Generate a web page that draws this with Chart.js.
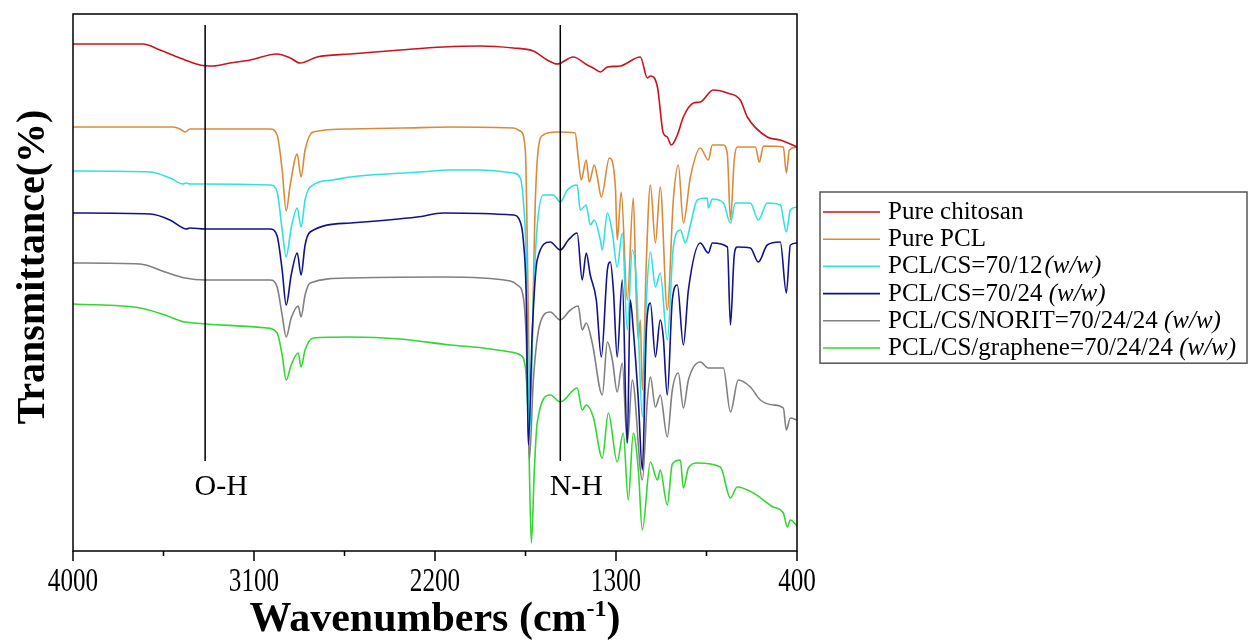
<!DOCTYPE html>
<html>
<head>
<meta charset="utf-8">
<title>FTIR spectra</title>
<script src="https://cdn.jsdelivr.net/npm/chart.js@4.4.1/dist/chart.umd.min.js"></script>
<style>
    html, body { margin: 0; padding: 0; background: #fff; }
    #wrap { width: 1250px; height: 641px; }
</style>
</head>
<body>
<div id="wrap"><canvas id="ftirChart" width="1250" height="641"></canvas></div>
<script>
// ===================== DATA =====================
// x = wavenumber (cm-1), y = stacked transmittance (arbitrary offset units)
const seriesLabels = ['Pure chitosan', 'Pure PCL', 'PCL/CS=70/12', 'PCL/CS=70/24', 'PCL/CS/NORIT=70/24/24', 'PCL/CS/graphene=70/24/24'];
const seriesUnits = ['', '', '(w/w)', '(w/w)', '(w/w)', '(w/w)'];

const chitosanX = [4000, 3652, 3567, 3468, 3368, 3303, 3219, 3119, 2985, 2920, 2871, 2786, 2622, 2373, 2159, 1975, 1811, 1711, 1642, 1592, 1513, 1443, 1413, 1378, 1343, 1279, 1179, 1144, 1129, 1094, 1065, 1045, 1025, 995, 965, 915, 881, 816, 746, 682, 647, 548, 483, 400];
const chitosanY = [101.4, 101.4, 100.2, 98.6, 97.2, 97, 97.6, 98.2, 99.4, 98.6, 97.6, 98.8, 99.4, 100.2, 100.8, 101, 100.6, 100, 98.2, 97.4, 98.8, 97.2, 96.6, 95.8, 96.8, 97, 98.8, 94.6, 95, 92.8, 83.6, 82.8, 81.2, 83.2, 86.8, 89.6, 89.8, 92.2, 91.6, 90.2, 86.8, 82.8, 82.2, 80.8];

const pclX = [4000, 3503, 3468, 3443, 3418, 3020, 2985, 2960, 2940, 2920, 2885, 2866, 2846, 2806, 2622, 2358, 2124, 1811, 1776, 1751, 1726, 1701, 1687, 1662, 1597, 1503, 1488, 1473, 1448, 1433, 1408, 1393, 1373, 1333, 1303, 1294, 1274, 1244, 1214, 1199, 1189, 1179, 1169, 1149, 1129, 1104, 1080, 1045, 1015, 990, 965, 930, 881, 841, 821, 766, 746, 731, 712, 697, 607, 587, 567, 468, 453, 438, 400];
const pclY = [84.8, 84.8, 84.4, 83.8, 84.4, 84.4, 83.2, 76.2, 68, 73.2, 79.4, 74.8, 80.2, 83.8, 84.4, 84.6, 84.8, 84.6, 84, 80.2, 30.2, 70.2, 80.2, 83.2, 83.8, 83.6, 78.8, 74.2, 78.2, 73.8, 77.2, 74.8, 70.8, 78.6, 72.8, 62.2, 71.8, 50.2, 70.6, 50.2, 42.2, 46.2, 32.2, 58.2, 73.2, 61.6, 72.8, 48.2, 70.2, 77.2, 65.6, 74.8, 80.6, 78.2, 81.2, 81.2, 79.2, 66.2, 78.2, 80.8, 80.8, 77.8, 81, 80.8, 75.6, 80.2, 80.8];

const cs12X = [4000, 3617, 3518, 3453, 3438, 3418, 3343, 3020, 2985, 2960, 2940, 2915, 2885, 2866, 2846, 2821, 2707, 2622, 2274, 2124, 1975, 1811, 1776, 1761, 1746, 1731, 1711, 1692, 1662, 1612, 1577, 1542, 1493, 1478, 1448, 1428, 1408, 1378, 1368, 1343, 1318, 1294, 1269, 1244, 1219, 1199, 1189, 1169, 1149, 1129, 1104, 1080, 1045, 1015, 980, 955, 930, 896, 846, 841, 821, 766, 731, 707, 632, 592, 548, 483, 453, 433, 400];
const cs12Y = [76, 75.8, 74.6, 73.4, 73.6, 73.4, 73.4, 73.2, 71.8, 64.2, 58.8, 64.6, 68.6, 64.8, 70.2, 72.8, 74.2, 74.8, 75.8, 76.2, 76.2, 75.6, 74.6, 70.2, 58.2, 22.2, 50.2, 64.8, 71.2, 71.2, 69.8, 72.2, 73.2, 68.2, 69.2, 65.2, 66.2, 62.2, 60.2, 67.6, 63.6, 56.8, 63.6, 44.2, 60.2, 54.2, 44.2, 26.8, 50.2, 59.8, 52.8, 55.6, 42.2, 60.8, 64.2, 61.6, 65.2, 70.2, 70.6, 68.6, 70.4, 69.6, 65.6, 69.6, 69.6, 66.2, 69.6, 69.2, 63.8, 68.2, 68.8];

const cs24X = [4000, 3617, 3518, 3453, 3438, 3418, 3343, 3020, 2985, 2960, 2940, 2915, 2885, 2866, 2846, 2821, 2622, 2289, 2159, 1811, 1776, 1761, 1746, 1736, 1716, 1692, 1627, 1577, 1537, 1493, 1468, 1448, 1428, 1398, 1373, 1343, 1328, 1313, 1294, 1269, 1244, 1229, 1214, 1189, 1169, 1149, 1129, 1104, 1080, 1065, 1045, 1020, 995, 965, 940, 881, 841, 821, 746, 731, 712, 697, 632, 592, 548, 483, 453, 433, 400];
const cs24Y = [67.6, 67.4, 66.2, 64.6, 64.4, 64.6, 64.4, 64.4, 63, 56.2, 49.2, 55.2, 59.6, 55.2, 61.2, 63.8, 65.6, 66.8, 67.6, 67.2, 65.8, 62.2, 50.2, 21.2, 44.2, 58.2, 61.8, 60.2, 62.2, 63.6, 54.2, 59.6, 55.2, 50.2, 38.8, 56.2, 57.8, 52.2, 38.8, 54.2, 21.6, 50.2, 44.2, 30.2, 16.2, 44.2, 49.6, 38.8, 46.2, 42.8, 31.2, 50.2, 53.2, 41.2, 52.2, 61.6, 59.6, 61.6, 60.8, 45.2, 59.2, 60.8, 60.6, 57.8, 61.2, 61.8, 51.6, 61.2, 61.6];

const noritX = [4000, 3667, 3542, 3443, 3343, 3020, 2985, 2960, 2940, 2915, 2880, 2866, 2846, 2821, 2622, 2159, 1826, 1791, 1761, 1746, 1731, 1711, 1677, 1627, 1577, 1527, 1488, 1468, 1448, 1418, 1368, 1343, 1318, 1294, 1269, 1244, 1219, 1169, 1144, 1129, 1104, 1080, 1045, 1020, 990, 965, 940, 881, 841, 766, 731, 692, 632, 582, 518, 468, 453, 433, 400];
const noritY = [57.6, 57.4, 55.8, 54.6, 54.2, 54.2, 52.8, 47.2, 42.8, 46.6, 49, 46.8, 51.2, 53.6, 54.6, 54.8, 54, 53.2, 50.8, 42.2, 18.2, 34.2, 45.6, 47.8, 46.2, 48.2, 49, 44.2, 45.6, 41.6, 31.2, 41.8, 38.2, 31.8, 37.6, 21.6, 34.2, 14.2, 30.2, 34.8, 28.8, 31.2, 22.8, 32.2, 35.6, 28.6, 34.2, 37.8, 36.6, 36.6, 27.8, 34.2, 32.8, 30.2, 29.2, 28.6, 24.2, 26.6, 26.2];

const grapheneX = [4000, 3667, 3542, 3443, 3035, 2985, 2960, 2940, 2915, 2880, 2866, 2846, 2806, 2622, 2373, 2124, 1960, 1826, 1776, 1751, 1736, 1721, 1706, 1692, 1627, 1577, 1493, 1468, 1448, 1413, 1368, 1338, 1294, 1264, 1239, 1214, 1189, 1169, 1129, 1094, 1080, 1045, 1020, 980, 965, 940, 896, 781, 731, 697, 617, 518, 468, 448, 433, 400];
const grapheneY = [49.4, 48.6, 47.2, 45.8, 44.6, 43.6, 39.2, 34.2, 37.2, 39.6, 36.8, 40.2, 42.6, 42.8, 42.4, 41.2, 40.6, 39.8, 39.2, 36.8, 26.2, 1.6, 16.2, 25.6, 31.2, 29.8, 32.6, 28.2, 29.2, 26.8, 18.6, 27.6, 17.8, 23.6, 10.2, 23.6, 16.2, 4.2, 17.8, 14.2, 16.2, 9.2, 17.4, 18.2, 12.6, 16.6, 17.6, 16.8, 10.6, 12.8, 11.6, 8.8, 7.6, 4.8, 6.2, 5];

// axis ticks and band markers
const xTickValues = [4000, 3100, 2200, 1300, 400];
const xMinorTicks = [3550, 2650, 1750, 850];
const bandPositions = [3343, 1577];
const bandLabels = ['O-H', 'N-H'];
const bandTop = 105.2;
const bandBottom = 18;

// ===================== STYLE =====================
const seriesColors = ['#c8141e', '#d98b3a', '#33e0e0', '#12128c', '#808080', '#33d633'];
const serif = '"Liberation Serif", "Times New Roman", serif';

const toPoints = (xs, ys) => xs.map((x, i) => ({ x: x, y: ys[i] }));

const seriesData = [
    toPoints(chitosanX, chitosanY),
    toPoints(pclX, pclY),
    toPoints(cs12X, cs12Y),
    toPoints(cs24X, cs24Y),
    toPoints(noritX, noritY),
    toPoints(grapheneX, grapheneY)
];
const drawOrder = [1, 4, 3, 2, 5, 6];

const datasets = seriesData.map((pts, i) => ({
    label: seriesLabels[i],
    data: pts,
    borderColor: seriesColors[i],
    borderWidth: 1.6,
    pointRadius: 0,
    showLine: true,
    fill: false,
    cubicInterpolationMode: 'monotone',
    order: drawOrder[i]
}));

bandPositions.forEach(w => {
    datasets.push({
        label: '',
        data: [{ x: w, y: bandTop }, { x: w, y: bandBottom }],
        borderColor: '#000',
        borderWidth: 1.5,
        pointRadius: 0,
        showLine: true,
        order: 0
    });
});

// ===================== FRAME, AXES, LEGEND =====================
function condensedText(ctx, text, x, y, font, sx) {
    ctx.save();
    ctx.translate(x, y);
    ctx.scale(sx, 1);
    ctx.font = font;
    ctx.fillText(text, 0, 0);
    ctx.restore();
}

const decorPlugin = {
    id: 'decor',
    afterDatasetsDraw(chart) {
        const { ctx, chartArea: a, scales } = chart;
        const xs = scales.x, ys = scales.y;
        ctx.save();
        ctx.fillStyle = '#000';
        ctx.strokeStyle = '#000';

        // frame
        ctx.lineWidth = 1.5;
        ctx.strokeRect(a.left, a.top, a.right - a.left, a.bottom - a.top);

        // tick marks
        ctx.beginPath();
        xTickValues.forEach(v => {
            const px = xs.getPixelForValue(v);
            ctx.moveTo(px, a.bottom); ctx.lineTo(px, a.bottom + 10);
        });
        xMinorTicks.forEach(v => {
            const px = xs.getPixelForValue(v);
            ctx.moveTo(px, a.bottom); ctx.lineTo(px, a.bottom + 5);
        });
        ctx.stroke();

        // tick labels
        ctx.textAlign = 'center';
        ctx.textBaseline = 'alphabetic';
        xTickValues.forEach(v => {
            condensedText(ctx, String(v), xs.getPixelForValue(v), a.bottom + 40, '34px ' + serif, 0.74);
        });

        // x title with superscript
        const mainFont = 'bold 42px ' + serif;
        const supFont = 'bold 24px ' + serif;
        ctx.textAlign = 'left';
        ctx.font = mainFont;
        const part1 = 'Wavenumbers (cm';
        const w1 = ctx.measureText(part1).width;
        const w3 = ctx.measureText(')').width;
        ctx.font = supFont;
        const w2 = ctx.measureText('-1').width;
        const cx = (a.left + a.right) / 2;
        let tx = cx - (w1 + w2 + w3) / 2;
        const base = 631;
        ctx.font = mainFont; ctx.fillText(part1, tx, base); tx += w1;
        ctx.font = supFont; ctx.fillText('-1', tx, base - 15); tx += w2;
        ctx.font = mainFont; ctx.fillText(')', tx, base);

        // y title
        ctx.save();
        ctx.translate(34, 267);
        ctx.rotate(-Math.PI / 2);
        ctx.textAlign = 'center';
        ctx.textBaseline = 'middle';
        ctx.font = 'bold 40px ' + serif;
        ctx.fillText('Transmittance(%)', 0, 0);
        ctx.restore();

        // band labels
        ctx.textAlign = 'center';
        ctx.textBaseline = 'alphabetic';
        ctx.font = '30px ' + serif;
        bandPositions.forEach((w, i) => {
            ctx.fillText(bandLabels[i], xs.getPixelForValue(w) + 16, ys.getPixelForValue(bandBottom) + 34);
        });

        // legend
        const lx = 820, ly = 192, lw = 427, rowH = 27.2;
        const lh = rowH * seriesLabels.length + 8;
        ctx.lineWidth = 1.5;
        ctx.strokeStyle = '#555';
        ctx.strokeRect(lx, ly, lw, lh);
        seriesLabels.forEach((label, i) => {
            const cy = ly + 20 + i * rowH;
            ctx.strokeStyle = seriesColors[i];
            ctx.lineWidth = 1.6;
            ctx.beginPath();
            ctx.moveTo(823, cy); ctx.lineTo(880, cy);
            ctx.stroke();
            ctx.textAlign = 'left';
            ctx.font = '25px ' + serif;
            const text = i === 2 ? label : label + (seriesUnits[i] ? ' ' : '');
            ctx.fillText(text, 888, cy + 7);
            if (seriesUnits[i]) {
                const off = ctx.measureText(text).width + (i === 2 ? 2 : 0);
                ctx.font = 'italic 25px ' + serif;
                ctx.fillText(seriesUnits[i], 888 + off, cy + 7);
            }
        });
        ctx.restore();
    }
};

// ===================== CHART =====================
const ctx = document.getElementById('ftirChart').getContext('2d');
new Chart(ctx, {
    type: 'scatter',
    data: { datasets: datasets },
    options: {
        responsive: false,
        animation: false,
        layout: { padding: { left: 0, top: 14, right: 453, bottom: 0 } },
        plugins: {
            legend: { display: false },
            tooltip: { enabled: false }
        },
        scales: {
            x: {
                type: 'linear',
                reverse: true,
                min: 400,
                max: 4000,
                grid: { display: false },
                border: { display: false },
                ticks: { display: false },
                afterFit: s => { s.height = 90; }
            },
            y: {
                min: 0,
                max: 107.4,
                grid: { display: false },
                border: { display: false },
                ticks: { display: false },
                afterFit: s => { s.width = 73; }
            }
        }
    },
    plugins: [decorPlugin]
});
</script>
</body>
</html>
